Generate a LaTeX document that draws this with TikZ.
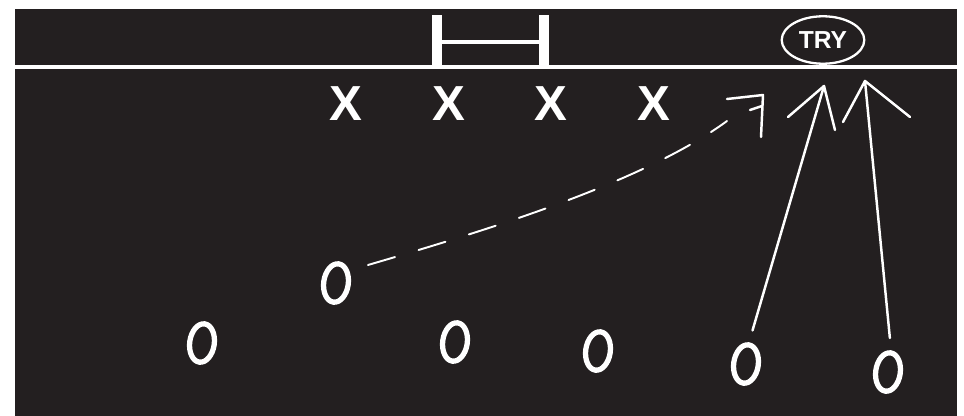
\documentclass[tikz,border=0pt]{standalone}
\usepackage{fontspec}
\setmainfont{Liberation Sans}
\usetikzlibrary{shapes.geometric, calc}

\definecolor{board}{HTML}{231F20}

\tikzset{
  chalk/.style={draw=white, line width=1.4pt, line cap=round, line join=round},
  defender/.style={text=white, font=\fontsize{28}{28}\selectfont\bfseries, inner sep=0pt},
  attacker/.style={ellipse, draw=white, line width=3pt, minimum width=14pt,
                   minimum height=22pt, inner sep=0pt, rotate=-8},
  trybox/.style={ellipse, draw=white, line width=1.3pt, minimum width=47pt,
                 minimum height=27pt, inner sep=0pt, text=white,
                 font=\fontsize{14}{14}\selectfont\bfseries},
}

\begin{document}
\begin{tikzpicture}[x=0.02cm, y=-0.02cm]
  \useasboundingbox (0,0) rectangle (964,416);

  % board
  \fill[white] (0,0) rectangle (964,416);
  \fill[board] (15,9) rectangle (957,416);

  % goal line and posts
  \draw[white, line width=2.3pt] (15,67) -- (957,67);
  \fill[white] (432,15) rectangle (442,68);
  \fill[white] (539,15) rectangle (549,68);
  \fill[white] (442,40) rectangle (539,44);

  % try zone
  \node[trybox] (try) at (823,40) {TRY};

  % defenders
  \node[defender] (x1) at (346,104) {X};
  \node[defender] (x2) at (449,104) {X};
  \node[defender] (x3) at (551,104) {X};
  \node[defender] (x4) at (654,104) {X};

  % attackers
  \node[attacker] (o1) at (202,343) {};
  \node[attacker] (o2) at (336,283) {};
  \node[attacker] (o3) at (455,342) {};
  \node[attacker] (o4) at (598,351) {};
  \node[attacker] (o5) at (746,364) {};
  \node[attacker] (o6) at (888,372) {};

  % pass from o2 (dashed, hooked end)
  \coordinate (passend) at (727,121);
  \draw[chalk, line width=1.1pt, dash pattern=on 16pt off 14pt]
    ($(o2)+(32,-18)$) .. controls (470,235) and (640,185) .. (passend);
  \draw[chalk] (727,99) -- (763,95) -- (761,137);
  \draw[chalk] (750,110) -- (762,106);

  % runs to the try line
  \coordinate (tipA) at (824,86);
  \coordinate (tipB) at (865,81);
  \draw[chalk, shorten <=7pt] (o5.north) -- (tipA);
  \draw[chalk] ($(tipA)+(-36,31)$) -- (tipA) -- ($(tipA)+(11,44)$);
  \draw[chalk, shorten <=7pt] (o6.north) -- (tipB);
  \draw[chalk] ($(tipB)+(-22,41)$) -- (tipB) -- ($(tipB)+(45,36)$);
\end{tikzpicture}
\end{document}
